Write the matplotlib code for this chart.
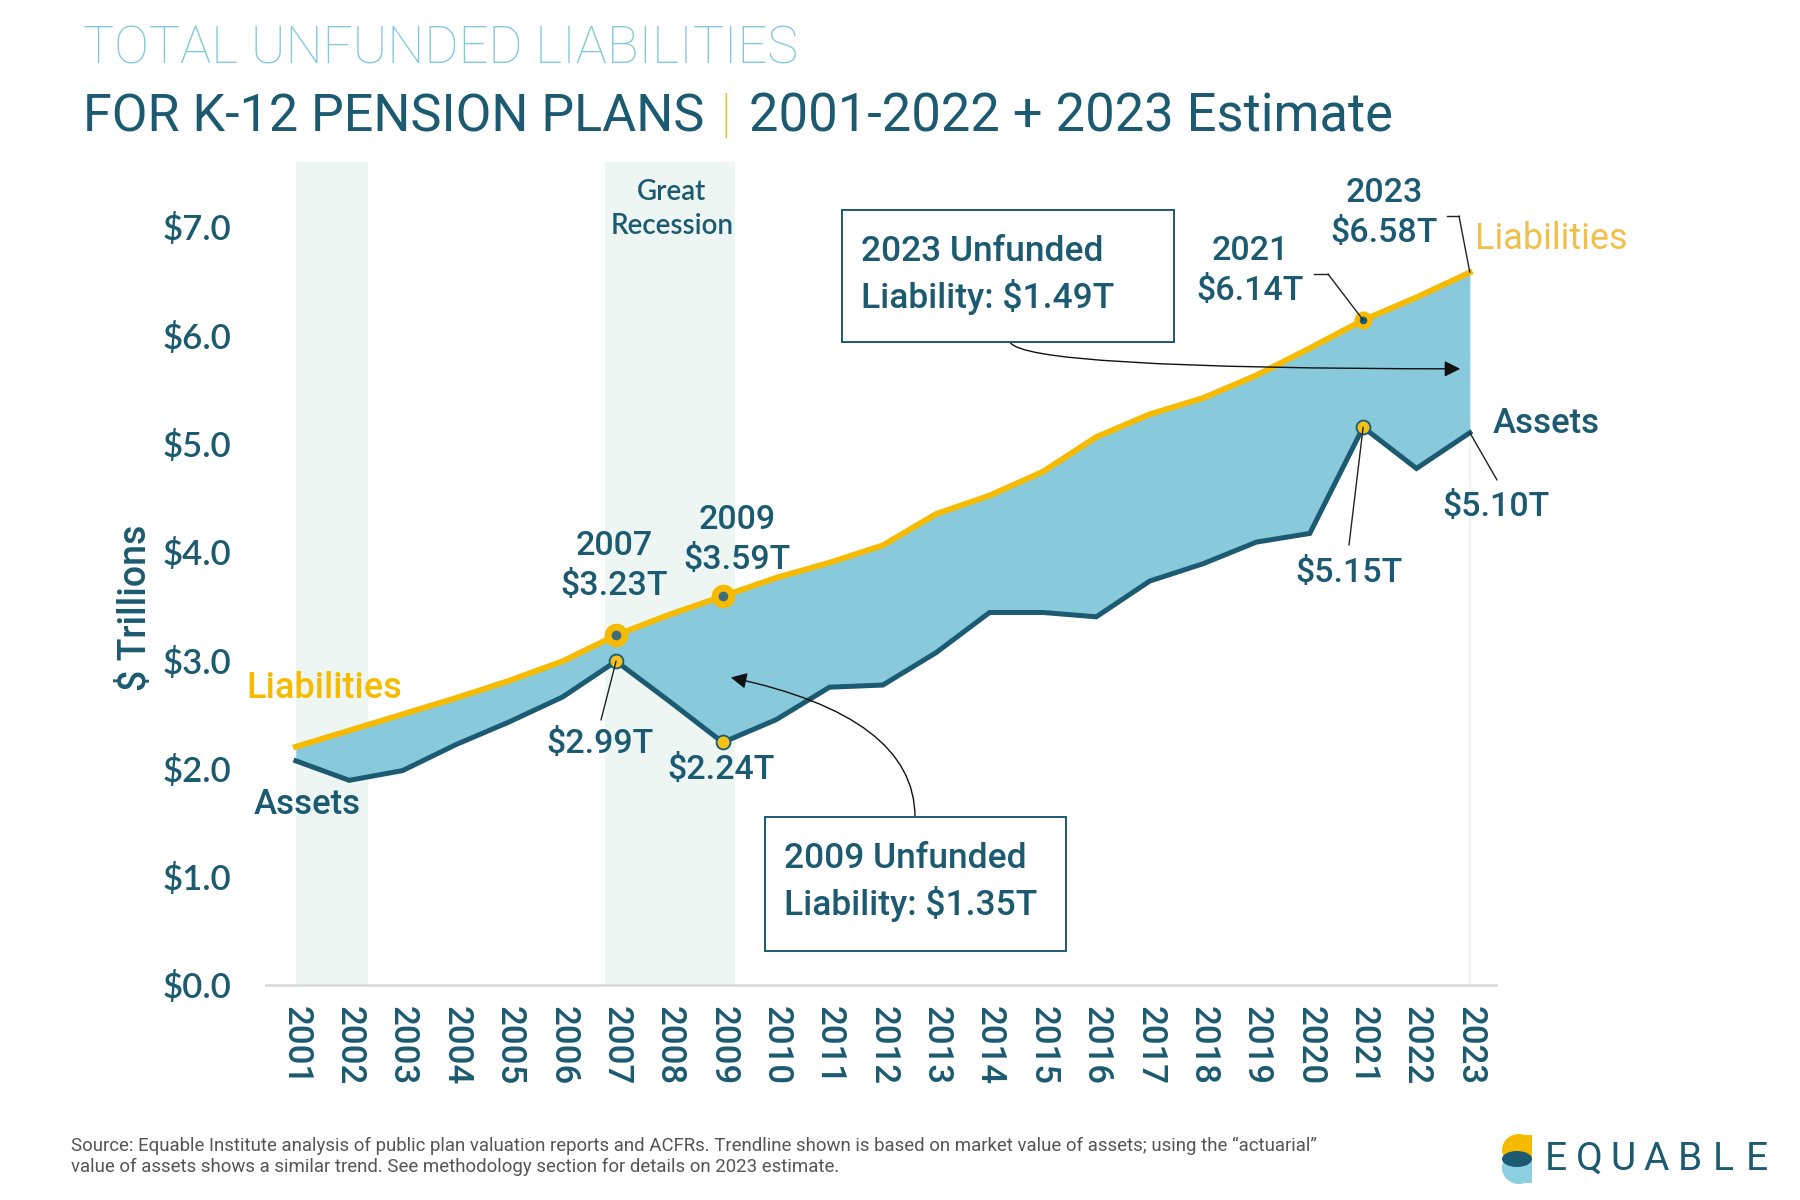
import matplotlib
matplotlib.use('Agg')
import matplotlib.pyplot as plt
from matplotlib.patches import Rectangle, Ellipse
from matplotlib.lines import Line2D

# ---------------- data ----------------
years = list(range(2001, 2024))
liabilities = [2.20, 2.35, 2.50, 2.65, 2.81, 2.99, 3.23, 3.42, 3.59, 3.76, 3.90, 4.06,
               4.35, 4.52, 4.74, 5.06, 5.27, 5.42, 5.63, 5.88, 6.14, 6.35, 6.58]
assets = [2.07, 1.89, 1.98, 2.22, 2.43, 2.66, 2.99, 2.62, 2.24, 2.45, 2.75, 2.77,
          3.07, 3.44, 3.44, 3.40, 3.73, 3.89, 4.09, 4.17, 5.15, 4.77, 5.10]
recessions = [(2001.0, 2002.36), (2006.79, 2009.22)]
yticks = [0, 1, 2, 3, 4, 5, 6, 7]
ytick_labels = ['$0.0', '$1.0', '$2.0', '$3.0', '$4.0', '$5.0', '$6.0', '$7.0']
big_liab_years = [2007, 2009]
small_liab_years = [2021]
asset_mark_years = [2007, 2009, 2021]

# ---------------- style ----------------
TEAL = '#1b5a70'
LIGHTBLUE = '#8ccfe0'
TITLEBLUE = '#82c9dc'
YELLOW = '#f6bb00'
FILL = '#88c9dc'
BAND = '#edf6f2'
W, H = 1800, 1200

fig = plt.figure(figsize=(18, 12), dpi=100)
fig.patch.set_facecolor('white')


def ftext(x, y, s, **kw):
    return fig.text(x / W, 1 - y / H, s, **kw)


def fpt(x, y):
    return (x / W, 1 - y / H)


ax = fig.add_axes([266 / W, 1 - 985 / H, (1496 - 266) / W, (985 - 162) / H])
ax.set_xlim(2000.44, 2023.49)
ax.set_ylim(0, 7.6)

for a, b in recessions:
    ax.axvspan(a, b, color=BAND, zorder=0, lw=0)

ax.vlines(years[-1], 0, assets[-1], color='#efefef', lw=1.2, zorder=0.5)
ax.fill_between(years, assets, liabilities, color=FILL, lw=0, zorder=1)
ax.plot(years, assets, color=TEAL, lw=3.6, zorder=3, solid_joinstyle='miter')
ax.plot(years, liabilities, color=YELLOW, lw=4.2, zorder=4)

idx = {y: i for i, y in enumerate(years)}
bx = [y for y in big_liab_years]
by = [liabilities[idx[y]] for y in big_liab_years]
ax.plot(bx, by, 'o', ms=17, mfc=YELLOW, mec='none', zorder=5)
ax.plot(bx, by, 'o', ms=7, mfc='#3f6a7a', mec='none', zorder=6)
sx = small_liab_years
sy = [liabilities[idx[y]] for y in small_liab_years]
ax.plot(sx, sy, 'o', ms=13, mfc=YELLOW, mec='none', zorder=5)
ax.plot(sx, sy, 'o', ms=5.5, mfc=TEAL, mec='none', zorder=6)
ax_x = asset_mark_years
ax_y = [assets[idx[y]] for y in asset_mark_years]
ax.plot(ax_x, ax_y, 'o', ms=10, mfc='#f2c21a', mec=TEAL, mew=1.3, zorder=6)

for s in ['top', 'right', 'left']:
    ax.spines[s].set_visible(False)
ax.spines['bottom'].set_color('#dcdcdc')
ax.spines['bottom'].set_linewidth(2)
ax.set_facecolor('none')

ax.set_yticks(yticks)
ax.set_yticklabels(ytick_labels, fontfamily='Lato', fontweight='semibold',
                   fontsize=25, color=TEAL)
ax.set_xticks(years)
ax.set_xticklabels([str(y) for y in years], rotation=270, fontfamily='Roboto',
                   fontweight='medium', fontsize=25, color=TEAL)
ax.tick_params(axis='y', length=0, pad=25)
ax.tick_params(axis='x', length=0, pad=15)

# y-axis label
ftext(135, 608, '$ Trillions', rotation=90, ha='center', va='center',
      fontfamily='Roboto', fontweight='medium', fontsize=27, color=TEAL)

# ---------------- titles ----------------
t1 = ftext(83, 63, 'TOTAL UNFUNDED LIABILITIES', ha='left', va='baseline',
           fontfamily='Roboto', fontweight='light', fontsize=36, color=TITLEBLUE)
t2a = ftext(83, 131, 'FOR K-12 PENSION PLANS', ha='left', va='baseline',
            fontfamily='Roboto', fontweight='normal', fontsize=38, color=TEAL)
t2b = ftext(726, 131, '|', ha='center', va='baseline',
            fontfamily='Roboto', fontweight='light', fontsize=38, color=YELLOW)
t2c = ftext(749, 131, '2001-2022 + 2023 Estimate', ha='left', va='baseline',
            fontfamily='Roboto', fontweight='normal', fontsize=38, color=TEAL)

renderer = fig.canvas.get_renderer()


def fit_width(t, target):
    w = t.get_window_extent(renderer).width
    t.set_fontsize(t.get_fontsize() * target / w)


fit_width(t1, 715)
fit_width(t2a, 622)
fit_width(t2c, 644)

# ---------------- annotations ----------------
ftext(672, 209, 'Great\nRecession', ha='center', va='center', fontfamily='Lato',
      fontweight='semibold', fontsize=20, color=TEAL, linespacing=1.35)
ftext(246, 688, 'Liabilities', ha='left', va='center', fontfamily='Roboto',
      fontsize=26, color=YELLOW, fontweight='medium')
ftext(254, 804, 'Assets', ha='left', va='center', fontfamily='Roboto',
      fontsize=25, color=TEAL, fontweight='medium')

lab = dict(ha='center', va='center', fontfamily='Roboto', fontsize=24.5,
           color=TEAL, fontweight='medium', linespacing=1.3)
ftext(614, 566, '2007\n$3.23T', **lab)
ftext(737, 540, '2009\n$3.59T', **lab)
ftext(600, 744, '$2.99T', **lab)
ftext(721, 770, '$2.24T', **lab)
ftext(1250, 271, '2021\n$6.14T', **lab)
ftext(1384, 213, '2023\n$6.58T', **lab)
ftext(1349, 573, '$5.15T', **lab)
ftext(1496, 507, '$5.10T', **lab)
ftext(1493, 424, 'Assets', ha='left', va='center', fontfamily='Roboto',
      fontsize=25, color=TEAL, fontweight='medium')
ftext(1475, 239, 'Liabilities', ha='left', va='center', fontfamily='Roboto',
      fontsize=26, color='#f0c04a', fontweight='normal')

# leader lines
lead = dict(arrowstyle='-', color='#222222', lw=1.0, shrinkA=0, shrinkB=0)
ax.annotate('', xy=(2007, assets[idx[2007]]), xytext=fpt(601, 720),
            textcoords='figure fraction', arrowprops=lead, zorder=7)
ax.annotate('', xy=(2021, assets[idx[2021]]), xytext=fpt(1349, 545),
            textcoords='figure fraction', arrowprops=lead, zorder=7)
ax.annotate('', xy=(2023, assets[idx[2023]]), xytext=fpt(1497, 480),
            textcoords='figure fraction', arrowprops=lead, zorder=7)
ax.annotate('', xy=(2021, liabilities[idx[2021]]), xytext=fpt(1328, 274),
            textcoords='figure fraction', arrowprops=lead, zorder=7)
ax.annotate('', xy=(2023, liabilities[idx[2023]]), xytext=fpt(1459, 216),
            textcoords='figure fraction', arrowprops=lead, zorder=7)
fig.add_artist(Line2D([1314 / W, 1328 / W], [1 - 274 / H, 1 - 274 / H],
                      color='#222222', lw=1.0))
fig.add_artist(Line2D([1447 / W, 1459 / W], [1 - 216 / H, 1 - 216 / H],
                      color='#222222', lw=1.0))

# boxes
for (x0, y0, x1, y1) in [(842, 210, 1174, 342), (765, 817, 1066, 951)]:
    fig.add_artist(Rectangle(fpt(x0, y1), (x1 - x0) / W, (y1 - y0) / H,
                             transform=fig.transFigure, facecolor='white',
                             edgecolor=TEAL, lw=1.4, zorder=2))
box = dict(ha='left', va='center', fontfamily='Roboto', fontsize=25.5,
           color=TEAL, fontweight='medium', linespacing=1.4, zorder=3)
ftext(861, 275, '2023 Unfunded\nLiability: $1.49T', **box)
ftext(784, 882, '2009 Unfunded\nLiability: $1.35T', **box)

arr = dict(arrowstyle='-|>', color='#111111', lw=1.0, mutation_scale=24,
           shrinkA=0, shrinkB=0)
ax.annotate('', xy=(2022.82, 5.69), xytext=fpt(1010, 342),
            textcoords='figure fraction',
            arrowprops=dict(connectionstyle='angle3,angleA=-65,angleB=0', **arr),
            zorder=8)
ax.annotate('', xy=(2009.15, 2.84), xytext=fpt(915, 817),
            textcoords='figure fraction',
            arrowprops=dict(connectionstyle='angle3,angleA=90,angleB=-12', **arr),
            zorder=8)

# ---------------- footer ----------------
ft = ftext(71, 1156, 'Source: Equable Institute analysis of public plan valuation reports and ACFRs. '
           'Trendline shown is based on market value of assets; using the \u201cactuarial\u201d\n'
           'value of assets shows a similar trend. See methodology section for details on 2023 estimate.',
           ha='left', va='center', fontfamily='Roboto', fontsize=12, color='#555555',
           linespacing=1.2)
fit_width(ft, 1246)

# logo
lax = fig.add_axes([1500 / W, 1 - 1184 / H, 38 / W, 50 / H])
lax.set_xlim(0, 38)
lax.set_ylim(0, 50)
lax.axis('off')
lax.add_patch(Ellipse((19, 34), 34, 32, color=YELLOW, lw=0))
lax.add_patch(Rectangle((19, 18), 17, 31, color=YELLOW, lw=0))
lax.add_patch(Ellipse((19, 16), 34, 32, color=LIGHTBLUE, lw=0))
lax.add_patch(Rectangle((19, 1), 17, 15, color=LIGHTBLUE, lw=0))
lax.add_patch(Ellipse((17, 25), 30, 16, color=TEAL, lw=0))
lax.add_patch(Rectangle((32, 0), 6, 50, color='white', lw=0))

for i, ch in enumerate('EQUABLE'):
    ftext(1556 + i * 33.4, 1159, ch, ha='center', va='center', fontfamily='Roboto',
          fontweight='normal', fontsize=28, color=TEAL)

fig.savefig('out.png', dpi=100, facecolor='white')
